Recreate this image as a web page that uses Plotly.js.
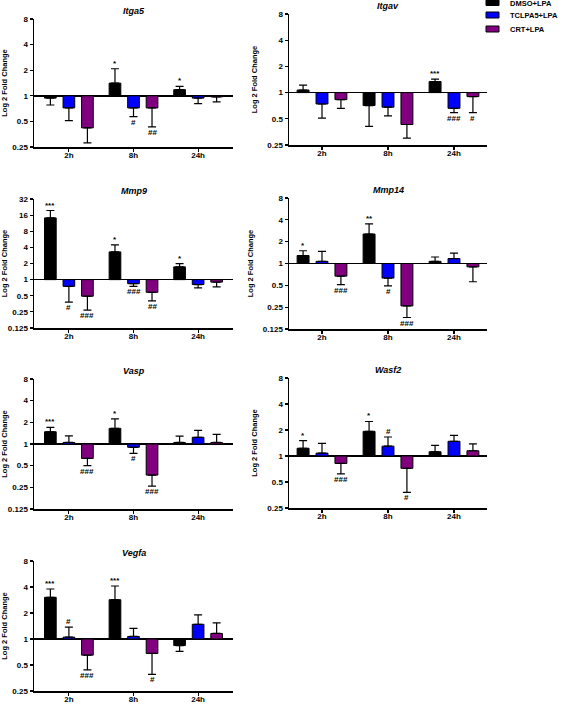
<!DOCTYPE html>
<html><head><meta charset="utf-8">
<script src="https://cdn.plot.ly/plotly-3.0.1.min.js"></script>
<style>html,body{margin:0;padding:0;background:#fff}#chart{width:567px;height:704px}</style>
</head><body><div id="chart"></div>
<script>
// ---------- DATA ----------
const timepoints = ['2h', '8h', '24h'];
const genes = ['Itga5', 'Itgav', 'Mmp9', 'Mmp14', 'Vasp', 'Wasf2', 'Vegfa'];
const seriesNames = ['DMSO+LPA', 'TCLPA5+LPA', 'CRT+LPA'];

// mean fold change, rows = genes, columns = time points
const dmsoMean   = [[0.94, 1.41, 1.18], [1.07, 0.71, 1.34], [14.2, 3.29, 1.73], [1.29, 2.55, 1.07], [1.48, 1.65, 1.05], [1.23, 1.93, 1.12], [3.04, 2.85, 0.84]];
const tclpa5Mean = [[0.72, 0.72, 0.94], [0.74, 0.68, 0.66], [0.75, 0.84, 0.81], [1.07, 0.63, 1.17], [1.05, 0.90, 1.24], [1.08, 1.30, 1.48], [1.05, 1.07, 1.48]];
const crtMean    = [[0.42, 0.72, 0.97], [0.83, 0.43, 0.90], [0.49, 0.58, 0.90], [0.67, 0.26, 0.90], [0.63, 0.37, 1.05], [0.82, 0.72, 1.15], [0.65, 0.68, 1.16]];

// end of the error bar (fold change), same layout
const dmsoErrTip   = [[0.78, 2.08, 1.29], [1.22, 0.41, 1.43], [19.5, 4.45, 1.99], [1.50, 3.51, 1.23], [1.70, 2.24, 1.29], [1.51, 2.51, 1.33], [3.79, 4.11, 0.72]];
const tclpa5ErrTip = [[0.51, 0.57, 0.81], [0.51, 0.54, 0.59], [0.38, 0.75, 0.70], [1.47, 0.49, 1.39], [1.30, 0.74, 1.55], [1.40, 1.66, 1.73], [1.37, 1.33, 1.90]];
const crtErrTip    = [[0.28, 0.43, 0.85], [0.66, 0.30, 0.59], [0.27, 0.40, 0.73], [0.51, 0.18, 0.56], [0.50, 0.26, 1.36], [0.62, 0.38, 1.38], [0.44, 0.39, 1.54]];

// significance marks
const dmsoSig   = [['', '*', '*'], ['', '', '***'], ['***', '*', '*'], ['*', '**', ''], ['***', '*', ''], ['*', '*', ''], ['***', '***', '']];
const tclpa5Sig = [['', '#', ''], ['', '', '###'], ['#', '###', ''], ['', '#', ''], ['', '#', ''], ['', '#', ''], ['#', '', '']];
const crtSig    = [['', '##', ''], ['', '', '#'], ['###', '##', ''], ['###', '###', ''], ['###', '###', ''], ['###', '#', ''], ['###', '#', '']];

const yTickFold = [0.125, 0.25, 0.5, 1, 2, 4, 8, 16, 32];
const yRangeFold = [[0.25, 8], [0.25, 8], [0.125, 32], [0.125, 8], [0.125, 8], [0.25, 8], [0.25, 8]];

// ---------- STYLE / LAYOUT ----------
const W = 567, H = 704;
const seriesColors = ['#000000', '#0000ff', '#800080'];
const FONT = 'Liberation Sans, Arial, Helvetica, sans-serif';
const boxes = [
  {x0: 34, x1: 233, y0: 19, y1: 147, xr: [-0.54, 2.54], so: 4},
  {x0: 289, x1: 487, y0: 14, y1: 145, xr: [-0.5, 2.5], so: 8},
  {x0: 34, x1: 233, y0: 199, y1: 328, xr: [-0.54, 2.54], so: 2},
  {x0: 289, x1: 487, y0: 198, y1: 329, xr: [-0.5, 2.5], so: 8},
  {x0: 34, x1: 233, y0: 379, y1: 509, xr: [-0.54, 2.54], so: 2},
  {x0: 289, x1: 487, y0: 378, y1: 508, xr: [-0.5, 2.5], so: 8},
  {x0: 34, x1: 233, y0: 561, y1: 691, xr: [-0.54, 2.54], so: 4}
];
const BARGAP = 0.14;
const slot = (1 - BARGAP) / 3;

const means = [dmsoMean, tclpa5Mean, crtMean];
const tips = [dmsoErrTip, tclpa5ErrTip, crtErrTip];
const sigs = [dmsoSig, tclpa5Sig, crtSig];
const L2 = v => Math.log2(v);

const traces = [];
const annotations = [];
const layout = {
  width: W, height: H,
  margin: {l: 0, r: 0, t: 0, b: 0},
  paper_bgcolor: '#fff', plot_bgcolor: '#fff',
  showlegend: false,
  barmode: 'group', bargap: BARGAP, bargroupgap: 0.37,
  font: {family: FONT, color: '#000', size: 8, weight: 'bold'},
  shapes: []
};

genes.forEach((g, gi) => {
  const n = gi + 1;
  const xa = n === 1 ? 'x' : 'x' + n;
  const ya = n === 1 ? 'y' : 'y' + n;
  const b = boxes[gi];
  for (let s = 0; s < 3; s++) {
    const m = means[s][gi], t = tips[s][gi];
    traces.push({
      type: 'bar', name: seriesNames[s], xaxis: xa, yaxis: ya,
      x: timepoints, y: m.map(L2),
      marker: {color: seriesColors[s], line: {color: '#000', width: 1}},
      error_y: {
        type: 'data', symmetric: false,
        array: m.map((v, i) => v >= 1 ? L2(t[i]) - L2(v) : 0),
        arrayminus: m.map((v, i) => v < 1 ? L2(v) - L2(t[i]) : 0),
        color: '#000', thickness: 1.2, width: 4
      },
      hoverinfo: 'skip'
    });
    sigs[s][gi].forEach((txt, i) => {
      if (!txt) return;
      const up = m[i] >= 1;
      annotations.push({
        xref: xa, yref: ya, x: i + (s - 1) * slot, y: L2(t[i]),
        text: txt, showarrow: false,
        yanchor: up ? 'bottom' : 'top', yshift: up ? -1 : 1,
        font: {family: FONT, size: 8, weight: 'bold', color: '#000'}
      });
    });
  }
  const yr = yRangeFold[gi];
  const tv = yTickFold.filter(v => v >= yr[0] && v <= yr[1]);
  layout['xaxis' + (n === 1 ? '' : n)] = {
    domain: [b.x0 / W, b.x1 / W], anchor: ya, type: 'category', range: b.xr,
    showline: true, linecolor: '#000', linewidth: 1.5, mirror: false,
    ticks: 'outside', ticklen: 3, tickwidth: 1.2, tickcolor: '#000',
    ticklabelstandoff: -3,
    showgrid: false, zeroline: false,
    tickfont: {family: FONT, size: 8, weight: 'bold', color: '#000'}
  };
  layout['yaxis' + (n === 1 ? '' : n)] = {
    domain: [(H - b.y1) / H, (H - b.y0) / H], anchor: xa,
    range: [L2(yr[0]), L2(yr[1])],
    tickmode: 'array', tickvals: tv.map(L2), ticktext: tv.map(String),
    showline: true, linecolor: '#000', linewidth: 1.5,
    ticks: 'outside', ticklen: 3, tickwidth: 1.2, tickcolor: '#000',
    showgrid: false, zeroline: true, zerolinecolor: '#000', zerolinewidth: 1.5,
    tickfont: {family: FONT, size: 8, weight: 'bold', color: '#000'},
    title: {text: 'Log 2 Fold Change', standoff: b.so, font: {family: FONT, size: 7.5, weight: 'bold', color: '#000'}}
  };
  annotations.push({
    xref: xa + ' domain', yref: ya + ' domain', x: 0.5, y: 1,
    yanchor: 'bottom', yshift: 1, showarrow: false, text: g,
    font: {family: FONT, size: 9, weight: 'bold', style: 'italic', color: '#000'}
  });
});

// legend (manual, compact like the original)
const legendRows = [2.5, 15, 29];
seriesNames.forEach((nm, s) => {
  const yc = legendRows[s];
  layout.shapes.push({
    type: 'rect', xref: 'paper', yref: 'paper',
    x0: 486 / W, x1: 499 / W, y0: (H - (yc + 3)) / H, y1: (H - (yc - 3)) / H,
    fillcolor: seriesColors[s], line: {color: '#000', width: 1}
  });
  annotations.push({
    xref: 'paper', yref: 'paper', x: 508 / W, y: (H - yc - 1) / H,
    xanchor: 'left', yanchor: 'middle', showarrow: false, text: nm,
    font: {family: FONT, size: 7.5, weight: 'bold', color: '#000'}
  });
});
layout.annotations = annotations;

Plotly.newPlot('chart', traces, layout, {staticPlot: true, displayModeBar: false});
</script>
</body></html>
